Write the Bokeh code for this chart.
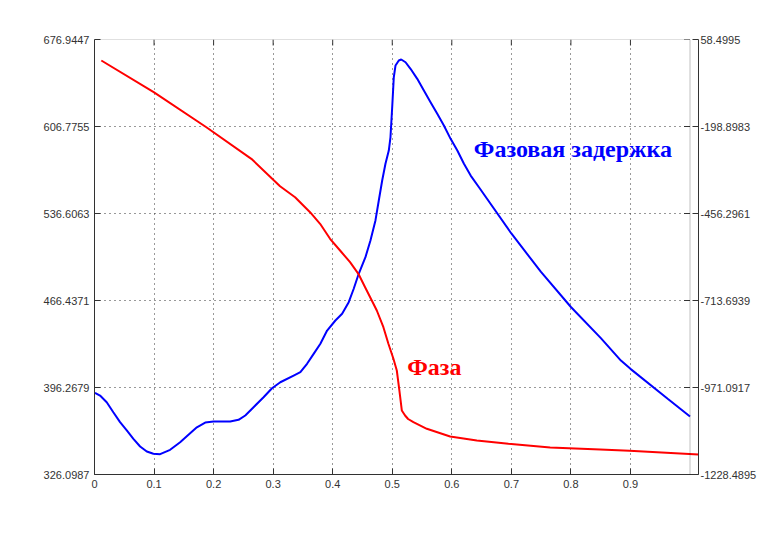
import numpy as np
from bokeh.plotting import figure
from bokeh.models import Range1d, LinearAxis, FixedTicker, BoxAnnotation
from bokeh.core.properties import value
from bokeh.embed import file_html
from bokeh.resources import INLINE

# ---- data ----
x_ticks = [0.0, 0.1, 0.2, 0.3, 0.4, 0.5, 0.6, 0.7, 0.8, 0.9]
x_labels = ["0", "0.1", "0.2", "0.3", "0.4", "0.5", "0.6", "0.7", "0.8", "0.9"]
left_ticks = [326.0987, 396.2679, 466.4371, 536.6063, 606.7755, 676.9447]
left_labels = ["326.0987", "396.2679", "466.4371", "536.6063", "606.7755", "676.9447"]
right_ticks = [-1228.4895, -971.0917, -713.6939, -456.2961, -198.8983, 58.4995]
right_labels = ["-1228.4895", "-971.0917", "-713.6939", "-456.2961", "-198.8983", "58.4995"]

# group delay (left axis), blue
delay_x = [0.0008, 0.0093, 0.0205, 0.0316, 0.0429, 0.0542, 0.0653, 0.0766, 0.0878, 0.0989,
           0.1102, 0.1270, 0.1438, 0.1606, 0.1719, 0.1859, 0.1998, 0.2279, 0.2419, 0.2532,
           0.2671, 0.2839, 0.2981, 0.3120, 0.3344, 0.3457, 0.3569, 0.3680, 0.3793, 0.3906,
           0.4045, 0.4158, 0.4269, 0.4353, 0.4437, 0.4550, 0.4634, 0.4718, 0.4774, 0.4831,
           0.4886, 0.4942, 0.4970, 0.4999, 0.5026, 0.5055, 0.5110, 0.5151, 0.5223, 0.5307,
           0.5420, 0.5531, 0.5643, 0.5756, 0.5867, 0.5980, 0.6093, 0.6204, 0.6317, 0.6456,
           0.7000, 0.7494, 0.8000, 0.8503, 0.8840, 0.9000, 0.9625, 1.0000]
delay_y = [392.0, 389.8, 384.4, 376.3, 368.3, 361.6, 354.9, 348.7, 344.6, 342.8,
           342.5, 346.0, 352.1, 359.4, 364.2, 368.0, 368.8, 368.8, 370.2, 373.7,
           380.4, 388.4, 395.7, 400.5, 405.9, 408.6, 415.4, 423.4, 431.5, 442.2,
           450.3, 455.7, 465.1, 475.9, 488.0, 501.4, 514.8, 531.0, 547.1, 563.2,
           576.7, 587.4, 598.1, 622.3, 646.5, 656.0, 660.0, 660.8, 658.6, 653.3,
           645.2, 635.8, 626.4, 617.0, 607.6, 596.8, 587.4, 576.7, 567.2, 557.8,
           520.5, 489.7, 461.2, 436.1, 418.0, 411.3, 387.2, 372.9]

# phase (right axis), red
phase_x = [0.0113, 0.0980, 0.1852, 0.2597, 0.3072, 0.3321, 0.3569, 0.3735, 0.3900, 0.4066,
           0.4231, 0.4369, 0.4480, 0.4591, 0.4674, 0.4783, 0.4866, 0.4949, 0.5005, 0.5048,
           0.5088, 0.5142, 0.5192, 0.5280, 0.5502, 0.5888, 0.6330, 0.6853, 0.7544, 0.8372,
           0.8857, 1.0000]
phase_y = [-3.6, -97.4, -201.0, -294.5, -375.5, -408.1, -452.5, -486.8, -531.2, -565.8,
           -600.4, -634.7, -674.4, -713.7, -743.3, -792.7, -841.8, -886.2, -920.8, -980.0,
           -1039.1, -1053.9, -1064.3, -1073.8, -1093.3, -1116.1, -1127.9, -1137.7, -1148.6, -1154.5,
           -1158.4, -1169.3]

AX = "#333333"
TXT = "#333333"
FONT = "Liberation Sans"

p = figure(width=763, height=525,
           x_range=Range1d(0, 604 / 595.5),
           y_range=Range1d(left_ticks[0], left_ticks[-1]),
           output_backend="svg", toolbar_location=None,
           min_border_left=94, min_border_right=65,
           min_border_top=39, min_border_bottom=51)
p.extra_y_ranges = {"y2": Range1d(right_ticks[0], right_ticks[-1])}
p.extra_x_ranges = {"x2": Range1d(0, 1)}
p.outline_line_color = None
p.background_fill_color = "white"
p.border_fill_color = "white"

def style_axis(ax):
    ax.axis_line_color = AX
    ax.major_tick_line_color = AX
    ax.major_tick_in = 6
    ax.major_tick_out = 0
    ax.minor_tick_line_color = None
    ax.major_label_text_font = FONT
    ax.major_label_text_font_size = "11px"
    ax.major_label_text_color = TXT

xa = p.xaxis[0]
xa.ticker = FixedTicker(ticks=x_ticks)
xa.major_label_overrides = {t: s for t, s in zip(x_ticks, x_labels)}
style_axis(xa)
xa.major_label_standoff = 5

ya = p.yaxis[0]
ya.ticker = FixedTicker(ticks=left_ticks)
ya.major_label_overrides = {t: s for t, s in zip(left_ticks, left_labels)}
style_axis(ya)
ya.major_label_standoff = 5

ra = LinearAxis(y_range_name="y2", ticker=FixedTicker(ticks=right_ticks))
ra.major_label_overrides = {t: s for t, s in zip(right_ticks, right_labels)}
style_axis(ra)
ra.major_label_standoff = 2
p.add_layout(ra, "right")

# grid
p.xgrid.ticker = FixedTicker(ticks=x_ticks[1:])
p.xgrid.grid_line_color = AX
p.xgrid.grid_line_dash = "1 4"
p.ygrid.visible = False
p.segment(x0=[x_ticks[0]] * 4, x1=[1.0] * 4, y0=left_ticks[1:-1], y1=left_ticks[1:-1],
          line_color=AX, line_dash="1 4", line_width=1)

# box of the left axes
p.add_layout(BoxAnnotation(left=0, right=1, bottom=left_ticks[0], top=left_ticks[-1],
                           fill_color=None, line_color=AX, line_width=1))
# inward ticks on the top edge and on the right edge of the left axes
p.ray(x=x_ticks[1:], y=[left_ticks[-1]] * 9, length=6, angle=-np.pi / 2,
      length_units="screen", line_color=AX, line_width=1)
p.ray(x=[1.0] * 6, y=left_ticks, length=6, angle=np.pi,
      length_units="screen", line_color=AX, line_width=1)

# curves
p.line(delay_x, delay_y, line_color="#0000FF", line_width=2)
p.line(phase_x, phase_y, line_color="#FF0000", line_width=2,
       x_range_name="x2", y_range_name="y2")

# annotations
p.text(x=[0.637], y=[588.9], text=["Фазовая задержка"], text_font=value("Liberation Serif"),
       text_font_style="bold", text_font_size="24px", text_color="#0000FF",
       text_baseline="alphabetic", text_align="left")
p.text(x=[0.525], y=[413.0], text=["Фаза"], text_font=value("Liberation Serif"),
       text_font_style="bold", text_font_size="24px", text_color="#FF0000",
       text_baseline="alphabetic", text_align="left")

open("out.html", "w").write(file_html(p, INLINE))
